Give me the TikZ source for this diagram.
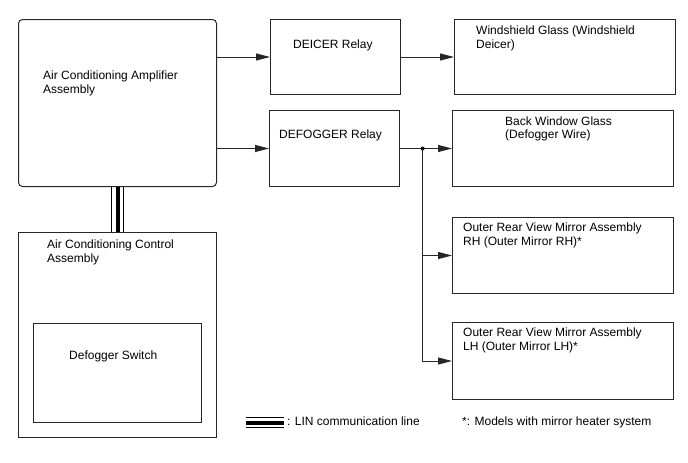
\documentclass[tikz,border=0pt]{standalone}
\usepackage{fontspec}
\setmainfont{Liberation Sans}
\usetikzlibrary{arrows.meta, positioning, calc}

\begin{document}
\begin{tikzpicture}[
    x=1pt, y=-1pt,
    font=\fontsize{12}{13.5}\selectfont,
    >={Triangle[length=14pt, width=7pt]},
    unit/.style={rectangle, draw=black!85, line width=1pt, anchor=north west, inner sep=0pt},
    ampbox/.style={unit, rounded corners=4pt, minimum width=198pt, minimum height=167pt},
    relay/.style={unit, minimum width=130pt, minimum height=75pt},
    load/.style={unit, minimum width=221pt, minimum height=76pt},
    lbl/.style={anchor=base west, align=left, inner sep=0pt},
    wire/.style={line width=1pt, black!85},
    linthin/.style={line width=1.2pt},
    linthick/.style={line width=4pt}
]
\useasboundingbox (0,0) rectangle (688,463);

% Units
\node[ampbox] (amp) at (18,19) {};
\node[unit, minimum width=198pt, minimum height=205pt] (ctrl) at (18,232) {};
\node[unit, minimum width=168pt, minimum height=99pt] (sw) at (33,323) {};

% Relays
\node[relay, below right=0pt and 53pt of amp.north east] (deicer) {};
\node[relay, minimum height=76pt] (defog) at (269,110) {};

% Loads
\node[load, minimum height=75pt, right=53pt of deicer.north east, anchor=north west] (wsg) {};
\node[load] (bwg) at (452,110) {};
\node[load] (mrh) at (452,217) {};
\node[load, minimum height=77pt] (mlh) at (452,322) {};

% Labels (two-line labels sit on their last line)
\node[lbl] (ampT) at ($(amp.north west)+(25,74)$) {Air Conditioning Amplifier\\Assembly};
\node[lbl] (ctrlT) at ($(ctrl.north west)+(29,30)$) {Air Conditioning Control\\Assembly};
\node[lbl] (swT) at ($(sw.north west)+(36,36)$) {Defogger Switch};
\node[lbl] (deicerT) at ($(deicer.north west)+(23,29)$) {DEICER Relay};
\node[lbl] (defogT) at ($(defog.north west)+(10,28)$) {DEFOGGER Relay};
\node[lbl] (wsgT) at ($(wsg.north west)+(22,29.5)$) {Windshield Glass (Windshield\\Deicer)};
\node[lbl] (bwgT) at ($(bwg.north west)+(53,28.5)$) {Back Window Glass\\(Defogger Wire)};
\node[lbl] (mrhT) at ($(mrh.north west)+(11,28)$) {Outer Rear View Mirror Assembly\\RH (Outer Mirror RH)*};
\node[lbl] (mlhT) at ($(mlh.north west)+(11,28)$) {Outer Rear View Mirror Assembly\\LH (Outer Mirror LH)*};

% Arrows
\draw[wire, ->] (amp.east |- deicer) -- (deicer.west);
\draw[wire, ->] (amp.east |- defog) -- (defog.west);
\draw[wire, ->] (deicer) -- (wsg);
\draw[wire, ->] (defog) -- (bwg);

% Branch to mirrors
\coordinate (jn) at ($(defog.east)!0.434!(bwg.west)$);
\fill (jn) circle (2pt);
\draw[wire, ->] (jn) |- (mrh.west);
\draw[wire, ->] (jn) |- (mlh.west);

% LIN line
\foreach \dx/\ls in {-6/linthin, 0/linthick, 6/linthin}
    \draw[\ls] ([xshift=\dx pt]amp.south) -- ([xshift=\dx pt]ctrl.north);

% Legend
\coordinate (legA) at (246,422.5);
\coordinate (legB) at (284,422.5);
\foreach \dy/\ls in {-5/linthin, 0/linthick, 5/linthin}
    \draw[\ls] ([yshift=\dy pt]legA) -- ([yshift=\dy pt]legB);
\node[lbl] (legT) at (287,425) {: LIN communication line};
\node[lbl] (noteT) at (462,425) {*: Models with mirror heater system};

\end{tikzpicture}
\end{document}
